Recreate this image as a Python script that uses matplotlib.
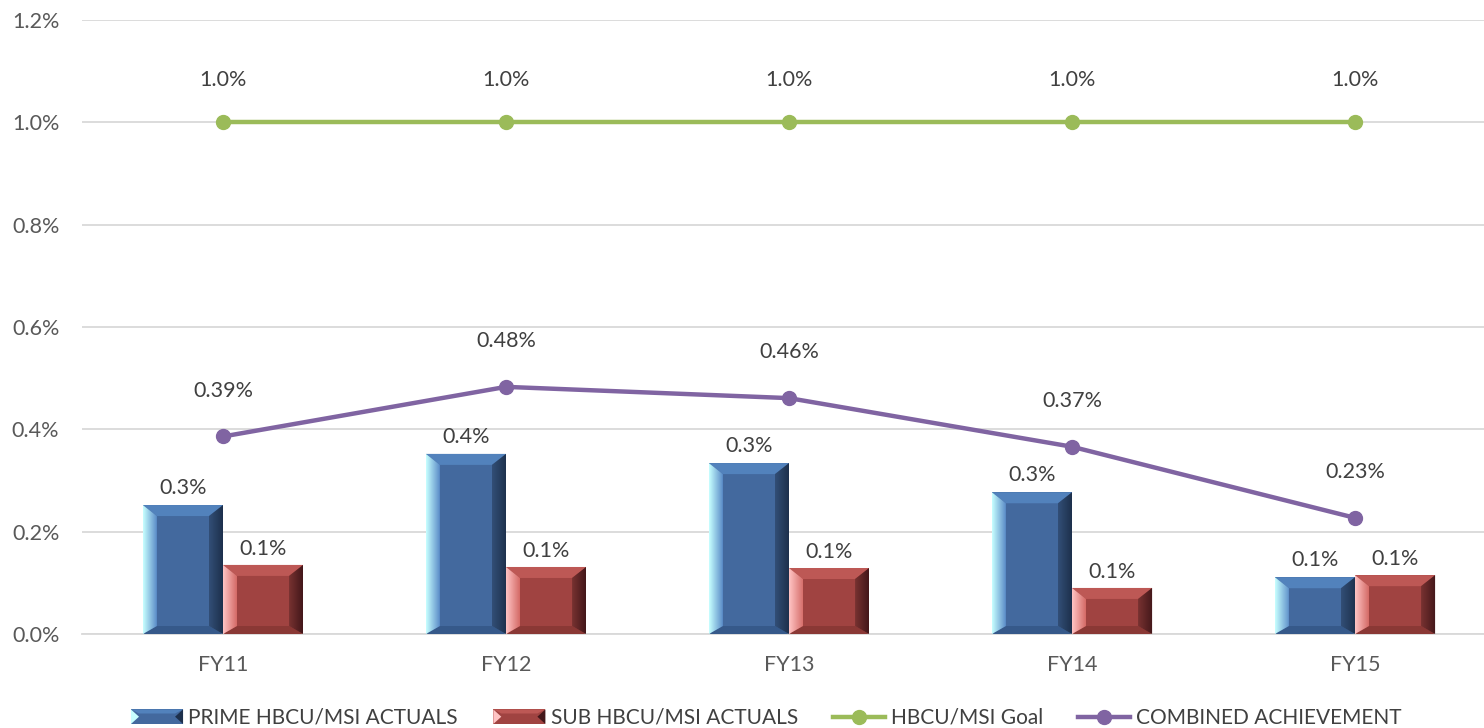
import matplotlib
matplotlib.use("Agg")
import matplotlib.pyplot as plt
import numpy as np
from matplotlib.patches import Polygon, Rectangle, Patch
from matplotlib.legend_handler import HandlerBase
from matplotlib.lines import Line2D

# ---------------- data ----------------
categories = ["FY11", "FY12", "FY13", "FY14", "FY15"]
prime_actuals = [0.252, 0.352, 0.334, 0.277, 0.111]
sub_actuals = [0.135, 0.131, 0.129, 0.090, 0.115]
goal = [1.0, 1.0, 1.0, 1.0, 1.0]
combined = [0.386, 0.483, 0.461, 0.366, 0.227]
y_ticks = [0.0, 0.2, 0.4, 0.6, 0.8, 1.0, 1.2]
series_names = ["PRIME HBCU/MSI ACTUALS", "SUB HBCU/MSI ACTUALS",
                "HBCU/MSI Goal", "COMBINED ACHIEVEMENT"]

# ---------------- style ----------------
plt.rcParams['font.family'] = ['Lato', 'DejaVu Sans']
TXT = '#404040'
TICK = '#595959'
GRID = '#D9D9D9'
PRIME = dict(face='#43699E', top='#5282BC', bottom='#36598A', right='#1D304C',
             light='#C8FFFF', mid='#5A8CC8')
SUB = dict(face='#A04341', top='#BD5855', bottom='#8A3835', right='#43171A',
           light='#FFC4C4', mid='#D46A66')
GOAL_C = '#9BBB59'
COMB_C = '#8064A2'
FS = 15.5

W, H = 1484, 728
fig = plt.figure(figsize=(W / 100, H / 100), dpi=100)
ax = fig.add_axes([81.5 / W, 1 - 634 / H, (1496.5 - 81.5) / W, (634 - 20) / H])
ax.set_xlim(-0.5, 4.5)
ax.set_ylim(0, 1.2)

x = np.arange(len(categories))
bw = 0.283

ax.set_yticks(y_ticks)
ax.set_yticklabels([f"{v:.1f}%" for v in y_ticks])
ax.set_xticks(x)
ax.set_xticklabels(categories)
ax.tick_params(axis='y', length=0, pad=16, labelsize=FS, labelcolor=TICK)
ax.tick_params(axis='x', length=0, pad=15, labelsize=FS, labelcolor=TICK)
ax.grid(axis='y', color=GRID, linewidth=1.3, zorder=0)
ax.set_axisbelow(True)
for s in ['top', 'right', 'left']:
    ax.spines[s].set_visible(False)
ax.spines['bottom'].set_color(GRID)
ax.spines['bottom'].set_linewidth(1.3)

bars_p = ax.bar(x - bw / 2, prime_actuals, bw, color=PRIME['face'], zorder=2)
bars_s = ax.bar(x + bw / 2, sub_actuals, bw, color=SUB['face'], zorder=2)

grad = np.linspace(0, 1, 64).reshape(1, -1)


def hex2rgb(h):
    h = h.lstrip('#')
    return np.array([int(h[i:i + 2], 16) / 255 for i in (0, 2, 4)])


def bevel(rect, c):
    x0, y0 = rect.get_x(), rect.get_y()
    w, h = rect.get_width(), rect.get_height()
    T = ax.transData
    inv = T.inverted()
    px0, py0 = T.transform((x0, y0))
    px1, py1 = T.transform((x0 + w, y0 + h))
    s, t, b = 14, 11, 8
    o = [(px0, py0), (px1, py0), (px1, py1), (px0, py1)]
    i = [(px0 + s, py0 + b), (px1 - s, py0 + b), (px1 - s, py1 - t), (px0 + s, py1 - t)]
    d = lambda pts: inv.transform(np.array(pts))
    ax.add_patch(Polygon(d([o[3], o[2], i[2], i[3]]), closed=True, fc=c['top'], ec='none', zorder=3))
    ax.add_patch(Polygon(d([o[0], o[1], i[1], i[0]]), closed=True, fc=c['bottom'], ec='none', zorder=3))
    right = Polygon(d([o[1], o[2], i[2], i[1]]), closed=True, fc='none', ec='none', zorder=3)
    ax.add_patch(right)
    left = Polygon(d([o[0], i[0], i[3], o[3]]), closed=True, fc='none', ec='none', zorder=3)
    ax.add_patch(left)
    c1, c2 = hex2rgb(c['light']), hex2rgb(c['mid'])
    img = (c1[None, None, :] * (1 - grad[..., None]) + c2[None, None, :] * grad[..., None])
    xs = d([o[0], i[0]])
    im = ax.imshow(img, extent=[xs[0, 0], xs[1, 0], y0, y0 + h], aspect='auto',
                   zorder=3, interpolation='bilinear')
    im.set_clip_path(left)
    r1, r2 = hex2rgb(c['face']) * 0.75, hex2rgb(c['right'])
    img2 = (r1[None, None, :] * (1 - grad[..., None]) + r2[None, None, :] * grad[..., None])
    xr = d([i[1], o[1]])
    im2 = ax.imshow(img2, extent=[xr[0, 0], xr[1, 0], y0, y0 + h], aspect='auto',
                    zorder=3, interpolation='bilinear')
    im2.set_clip_path(right)


for r in bars_p:
    bevel(r, PRIME)
for r in bars_s:
    bevel(r, SUB)

ax.set_xlim(-0.5, 4.5)
ax.set_ylim(0, 1.2)

ax.plot(x, goal, color=GOAL_C, lw=3.2, marker='o', ms=10, zorder=4)
ax.plot(x, combined, color=COMB_C, lw=3.2, marker='o', ms=10, zorder=4)

for xi, v in zip(x, prime_actuals):
    ax.annotate(f"{v:.1f}%", (xi - bw / 2, v), xytext=(0, 12.5), textcoords='offset points',
                ha='center', va='center', fontsize=FS, color=TXT)
for xi, v in zip(x, sub_actuals):
    ax.annotate(f"{v:.1f}%", (xi + bw / 2, v), xytext=(0, 11.5), textcoords='offset points',
                ha='center', va='center', fontsize=FS, color=TXT)
for xi, v in zip(x, goal):
    ax.annotate(f"{v:.1f}%", (xi, v), xytext=(0, 30.5), textcoords='offset points',
                ha='center', va='center', fontsize=FS, color=TXT)
for xi, v in zip(x, combined):
    ax.annotate(f"{v:.2f}%", (xi, v), xytext=(0, 33), textcoords='offset points',
                ha='center', va='center', fontsize=FS, color=TXT)


class BevelHandler(HandlerBase):
    def __init__(self, c):
        super().__init__()
        self.c = c

    def create_artists(self, legend, orig_handle, xdescent, ydescent, width, height,
                       fontsize, trans):
        c = self.c
        x0, y0 = -xdescent, -ydescent
        hh = height
        e = hh * 0.55
        arts = [Rectangle((x0, y0), width, hh, fc=c['face'], ec='none', transform=trans),
                Polygon([(x0, y0 + hh), (x0 + width, y0 + hh), (x0 + width - e, y0 + hh * 0.72),
                         (x0 + e, y0 + hh * 0.72)], closed=True, fc=c['top'], ec='none', transform=trans),
                Polygon([(x0, y0), (x0 + e, y0 + hh / 2), (x0, y0 + hh)], closed=True,
                        fc=c['light'], ec='none', transform=trans),
                Polygon([(x0 + width, y0), (x0 + width - e, y0 + hh / 2), (x0 + width, y0 + hh)],
                        closed=True, fc=c['right'], ec='none', transform=trans)]
        return arts


hp = Patch(fc=PRIME['face'])
hs = Patch(fc=SUB['face'])
hg = Line2D([], [], color=GOAL_C, lw=3.2, marker='o', ms=10)
hc = Line2D([], [], color=COMB_C, lw=3.2, marker='o', ms=10)
leg = fig.legend([hp, hs, hg, hc], series_names, loc='center', ncol=4,
                 bbox_to_anchor=(766 / W, 1 - 718 / H), frameon=False, fontsize=15,
                 labelcolor=TXT, handlelength=2.5, handletextpad=0.25, columnspacing=1.7,
                 handler_map={hp: BevelHandler(PRIME), hs: BevelHandler(SUB)})

fig.savefig("out.png", dpi=100)
